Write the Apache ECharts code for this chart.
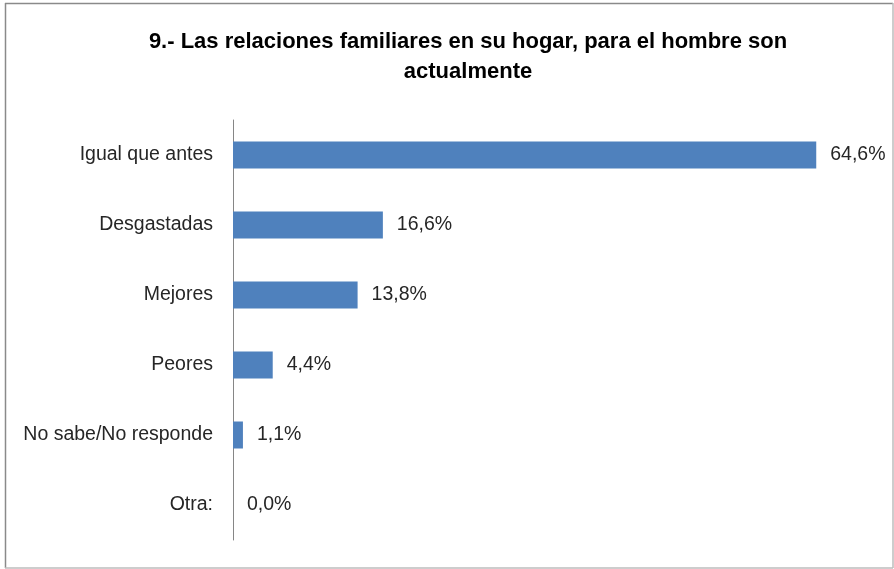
<!DOCTYPE html>
<html>
<head>
<meta charset="utf-8">
<script src="https://cdn.jsdelivr.net/npm/echarts@6/dist/echarts.min.js"></script>
<style>
html,body{margin:0;padding:0;background:#fff;}
#chart{width:894px;height:569px;}
</style>
</head>
<body>
<div id="chart"></div>
<script>
const titleLines = ["9.- Las relaciones familiares en su hogar, para el hombre son", "actualmente"];
const categories = ["Igual que antes", "Desgastadas", "Mejores", "Peores", "No sabe/No responde", "Otra:"];
const values = [64.6, 16.6, 13.8, 4.4, 1.1, 0.0];

const chart = echarts.init(document.getElementById('chart'), null, {renderer: 'canvas'});
chart.setOption({
  backgroundColor: '#ffffff',
  animation: false,
  graphic: [
    {type: 'line', shape: {x1: 5, y1: 3.5, x2: 893, y2: 3.5}, style: {stroke: '#8a8a8a', lineWidth: 1.5}},
    {type: 'line', shape: {x1: 5.5, y1: 3, x2: 5.5, y2: 568}, style: {stroke: '#8a8a8a', lineWidth: 1.5}},
    {type: 'line', shape: {x1: 893, y1: 3, x2: 893, y2: 568}, style: {stroke: '#bdbdbd', lineWidth: 1.5}},
    {type: 'line', shape: {x1: 5, y1: 568, x2: 893, y2: 568}, style: {stroke: '#bdbdbd', lineWidth: 1.5}},
    {type: 'text', x: 468, y: 42, style: {text: titleLines[0], textAlign: 'center', textVerticalAlign: 'middle',
      fontFamily: 'Liberation Sans', fontSize: 22, fontWeight: 'bold', fill: '#000000'}},
    {type: 'text', x: 468, y: 72, style: {text: titleLines[1], textAlign: 'center', textVerticalAlign: 'middle',
      fontFamily: 'Liberation Sans', fontSize: 22, fontWeight: 'bold', fill: '#000000'}}
  ],
  grid: {left: 233, right: 29, top: 120, bottom: 29, containLabel: false},
  xAxis: {
    type: 'value',
    min: 0,
    max: 70,
    show: false
  },
  yAxis: {
    type: 'category',
    data: categories,
    inverse: true,
    axisLine: {show: true, lineStyle: {color: '#868686', width: 1}},
    axisTick: {show: false},
    axisLabel: {
      margin: 20,
      fontFamily: 'Liberation Sans',
      fontSize: 19.5,
      color: '#262626'
    }
  },
  series: [{
    type: 'bar',
    data: values,
    barWidth: 27,
    itemStyle: {color: '#4f81bd'},
    label: {
      show: true,
      position: 'right',
      distance: 14,
      fontFamily: 'Liberation Sans',
      fontSize: 19.5,
      color: '#262626',
      formatter: function (p) { return p.value.toFixed(1).replace('.', ',') + '%'; }
    }
  }]
});
</script>
</body>
</html>
